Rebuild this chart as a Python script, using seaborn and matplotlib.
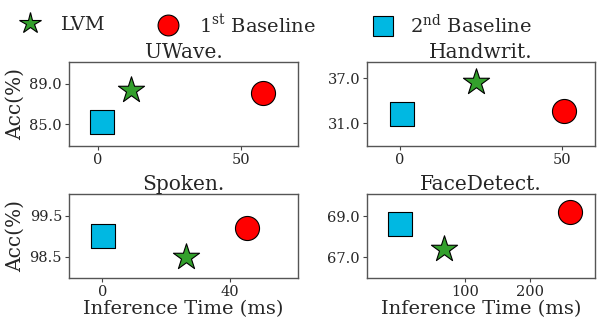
import matplotlib
matplotlib.use("Agg")
import matplotlib.pyplot as plt
import seaborn as sns
import pandas as pd

sns.set_theme(style="white")
plt.rcParams["font.family"] = ["DejaVu Serif"]
plt.rcParams["mathtext.fontset"] = "custom"
plt.rcParams["mathtext.rm"] = "DejaVu Serif"

methods = ["LVM", "1st Baseline", "2nd Baseline"]
legend_labels = ["LVM", r"1$^{\rm st}$ Baseline", r"2$^{\rm nd}$ Baseline"]
datasets = ["UWave.", "Handwrit.", "Spoken.", "FaceDetect."]

# inference time (ms) per dataset, ordered as methods
time_uwave = [11.6, 57.8, 1.7]
time_handwrit = [23.5, 50.5, 0.8]
time_spoken = [26.1, 45.4, 0.3]
time_facedetect = [68.8, 262.0, 0.0]

# accuracy (%) per dataset, ordered as methods
acc_uwave = [88.35, 88.1, 85.25]
acc_handwrit = [36.55, 32.7, 32.2]
acc_spoken = [98.49, 99.2, 99.0]
acc_facedetect = [67.4, 69.2, 68.6]

xticks = [[0, 50], [0, 50], [0, 40], [100, 200]]
yticks = [[85.0, 89.0], [31.0, 37.0], [98.5, 99.5], [67.0, 69.0]]
xlims = [(-10, 70), (-10, 60), (-10.4, 61.3), (-50, 300)]
ylims = [(82.9, 91.1), (28.0, 39.2), (97.98, 100.03), (66.0, 70.07)]

times = [time_uwave, time_handwrit, time_spoken, time_facedetect]
accs = [acc_uwave, acc_handwrit, acc_spoken, acc_facedetect]

markers = {"LVM": "*", "1st Baseline": "o", "2nd Baseline": "s"}
colors = {"LVM": "#33a02c", "1st Baseline": "#ff0000", "2nd Baseline": "#00b8e2"}
sizes = {"LVM": 390, "1st Baseline": 300, "2nd Baseline": 290}
legend_sizes = {"LVM": 16, "1st Baseline": 15, "2nd Baseline": 14.5}

fig = plt.figure(figsize=(5.98, 3.2), dpi=100)
boxes = [
    (69 / 598, 1 - 146 / 320, 229 / 598, 84 / 320),
    (367 / 598, 1 - 146 / 320, 228 / 598, 84 / 320),
    (69 / 598, 1 - 278 / 320, 229 / 598, 84 / 320),
    (367 / 598, 1 - 278 / 320, 228 / 598, 84 / 320),
]

for i, name in enumerate(datasets):
    ax = fig.add_axes(boxes[i])
    df = pd.DataFrame({"method": methods, "time": times[i], "acc": accs[i]})
    for m in methods:
        sub = df[df["method"] == m]
        sns.scatterplot(data=sub, x="time", y="acc", ax=ax, marker=markers[m],
                        s=sizes[m], color=colors[m], edgecolor="black",
                        linewidth=0.8, zorder=3, legend=False)
    ax.set_xlim(*xlims[i])
    ax.set_ylim(*ylims[i])
    ax.set_xticks(xticks[i])
    ax.set_yticks(yticks[i])
    ax.set_yticklabels([f"{v:.1f}" for v in yticks[i]])
    ax.tick_params(axis="both", which="both", labelsize=10.5, length=3,
                   width=0.8, color="#444444", pad=2,
                   bottom=True, left=True)
    for sp in ax.spines.values():
        sp.set_color("#555555")
        sp.set_linewidth(1.0)
    ax.set_title(name, fontsize=14.5, pad=3)
    ax.set_xlabel("Inference Time (ms)" if i >= 2 else "", fontsize=14, labelpad=1)
    ax.set_ylabel("Acc(%)" if i % 2 == 0 else "", fontsize=14.5, labelpad=3)

# one legend entry per method, spread across the top of the figure
entry_left = [16, 154, 369]
for m, lab, xl in zip(methods, legend_labels, entry_left):
    h = plt.Line2D([], [], linestyle="none", marker=markers[m],
                   markersize=legend_sizes[m],
                   markerfacecolor=colors[m], markeredgecolor="black",
                   markeredgewidth=0.8, label=lab)
    fig.legend(handles=[h], loc="center left",
               bbox_to_anchor=(xl / 598, 1 - 24.5 / 320),
               frameon=False, fontsize=14, handlelength=1.4,
               handletextpad=0.9 if m != "2nd Baseline" else 0.7,
               borderpad=0, borderaxespad=0)

fig.savefig("out.png", dpi=100)
